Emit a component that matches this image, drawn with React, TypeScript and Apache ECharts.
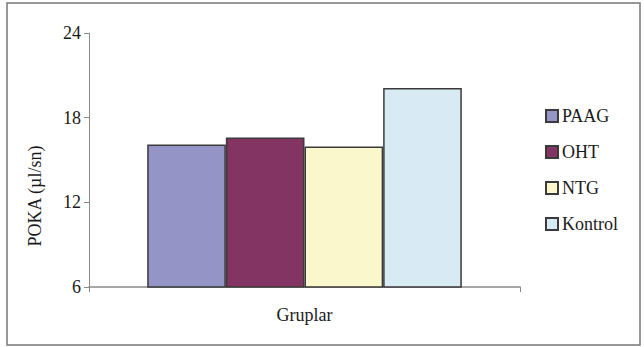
import React, { useEffect, useRef } from "react";
import * as echarts from "echarts";

const categories = ["Gruplar"];
const seriesNames = ["PAAG", "OHT", "NTG", "Kontrol"];
const paagValues = [16.1];
const ohtValues = [16.6];
const ntgValues = [15.95];
const kontrolValues = [20.1];
const seriesColors = ["#9594c6", "#843462", "#fbf7cc", "#d8eaf3"];
const yTicks = [6, 12, 18, 24];

export default function App() {
  const ref = useRef<HTMLDivElement>(null);
  useEffect(() => {
    document.body.style.margin = "0";
    if (!ref.current) return;
    const chart = echarts.init(ref.current, undefined, { renderer: "svg" });
    const values = [paagValues, ohtValues, ntgValues, kontrolValues];
    const font = "Liberation Serif";
    chart.setOption({
      animation: false,
      backgroundColor: "#ffffff",
      textStyle: { fontFamily: font },
      grid: { left: 89, top: 33, right: 124, bottom: 60 },
      legend: {
        orient: "vertical",
        left: 540,
        top: 102,
        itemWidth: 12,
        itemHeight: 12,
        itemGap: 18,
        icon: "rect",
        data: seriesNames,
        textStyle: { fontFamily: font, fontSize: 18, color: "#1a1a1a", padding: [0, 0, 0, -1] },
      },
      xAxis: {
        type: "category",
        data: categories,
        axisLine: { lineStyle: { color: "#8a8a8a", width: 1.5 } },
        axisTick: { show: true, length: 5, lineStyle: { color: "#8a8a8a" } },
        axisLabel: { fontFamily: font, fontSize: 18, color: "#1a1a1a", margin: 19 },
      },
      yAxis: {
        type: "value",
        min: yTicks[0],
        max: yTicks[yTicks.length - 1],
        interval: 6,
        splitLine: { show: false },
        axisLine: { show: true, lineStyle: { color: "#8a8a8a", width: 1 } },
        axisTick: { show: true, length: 5, lineStyle: { color: "#8a8a8a" } },
        axisLabel: { fontFamily: font, fontSize: 18, color: "#1a1a1a", margin: 8, padding: [0, 0, 6, 0] },
      },
      series: seriesNames.map((name, i) => ({
        name,
        type: "bar",
        data: values[i],
        barGap: "0%",
        barCategoryGap: "27%",
        itemStyle: {
          color: seriesColors[i],
          borderColor: "#3a3a3a",
          borderWidth: 1.5,
        },
      })),
      graphic: [
        {
          type: "rect",
          shape: { x: 7, y: 3, width: 633, height: 342 },
          style: { fill: "none", stroke: "#777", lineWidth: 1.5 },
          silent: true,
        },
        {
          type: "text",
          x: 35,
          y: 196,
          rotation: Math.PI / 2,
          style: {
            text: "POKA (µl/sn)",
            fontFamily: font,
            fontSize: 18,
            fill: "#1a1a1a",
            align: "center",
            verticalAlign: "middle",
          },
        },
      ],
    });
    return () => chart.dispose();
  }, []);
  return <div ref={ref} style={{ width: 644, height: 347 }} />;
}
